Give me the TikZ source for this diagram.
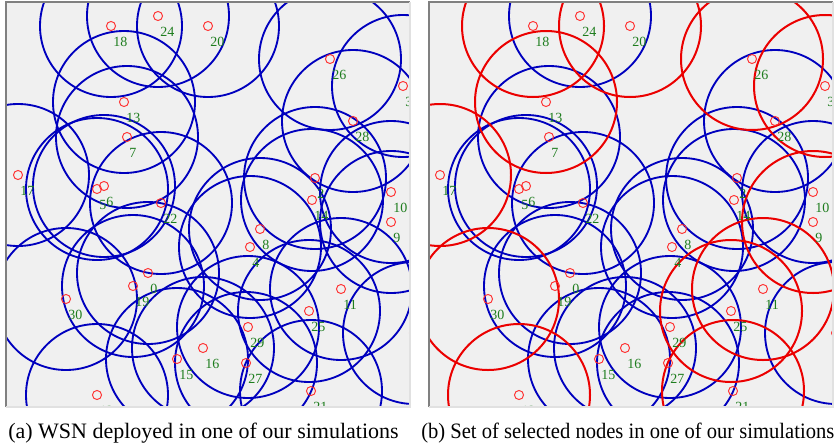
\documentclass[tikz,border=0pt]{standalone}
\usepackage{fontspec}
\setmainfont{Liberation Serif}
\definecolor{panelbg}{RGB}{240,240,240}
\definecolor{cblue}{RGB}{0,0,190}
\definecolor{cred}{RGB}{235,0,0}
\definecolor{nodered}{RGB}{255,45,45}
\definecolor{lblgreen}{RGB}{30,125,30}
\definecolor{framedark}{RGB}{128,128,128}
\definecolor{framelight}{RGB}{225,225,225}
\def\sensorlist{111/26/18/1, 158/16/24/0, 208/26/20/1, 330/59/26/1, 403/86/3/1,
  124/102/13/1, 127/137/7/0, 353/121/28/0, 18/175/17/1, 97/189/5/0, 104/186/6/0,
  161/203/22/0, 315/178/2/0, 312/200/14/0, 391/192/10/0, 391/222/9/1, 148/273/0/0,
  133/286/19/0, 66/299/30/1, 177/359/15/0, 203/348/16/0, 97/395/12/1, 260/229/8/0,
  250/247/4/0, 341/289/11/1, 309/311/25/1, 248/327/29/0, 246/363/27/0, 311/391/21/1}
\begin{document}
\begin{tikzpicture}[x=0.75pt,y=-0.75pt,
  rangeblue/.style={draw=cblue, line width=1.4pt},
  rangered/.style={draw=cred, line width=1.5pt},
  sensor/.style={draw=nodered, line width=0.7pt, circle, minimum size=6.8pt, inner sep=0pt},
  lbl/.style={text=lblgreen, font=\fontsize{10.5}{12}\selectfont, anchor=west, inner sep=0pt},
  captext/.style={font=\fontsize{16.5}{19}\selectfont, inner sep=0pt, anchor=base west}]
\useasboundingbox (0,0) rectangle (837,446);
\fill[white] (0,0) rectangle (837,446);
% ---------- panel (a)
\begin{scope}
  \clip (6,2) rectangle (410,407);
  \fill[panelbg] (6,2) rectangle (410,407);
  \foreach \x/\y/\l/\s in \sensorlist {
    \draw[rangeblue] (\x,\y) circle[radius=53.25pt];
  }
  \draw[rangeblue] (414,333) circle[radius=53.25pt];
  \foreach \x/\y/\l/\s in \sensorlist {
    \node[sensor] (a\l) at (\x,\y) {};
    \node[lbl] (la\l) at (\x+2,\y+16) {\l};
  }
  \node[sensor] (aedge) at (414,333) {};
\end{scope}
\draw[framedark, line width=1pt] (6,407) -- (6,2) -- (410,2);
\draw[framelight, line width=1pt] (410,2) -- (410,407) -- (6,407);
% ---------- panel (b)
\begin{scope}[xshift=316.5pt]
  \clip (7,2) rectangle (411,407);
  \fill[panelbg] (7,2) rectangle (411,407);
  \foreach \x/\y/\l/\s in \sensorlist {
    \ifnum\s=0 \draw[rangeblue] (\x,\y) circle[radius=53.25pt];\fi
  }
  \draw[rangeblue] (414,333) circle[radius=53.25pt];
  \foreach \x/\y/\l/\s in \sensorlist {
    \ifnum\s=1 \draw[rangered] (\x,\y) circle[radius=53.25pt];\fi
  }
  \foreach \x/\y/\l/\s in \sensorlist {
    \node[sensor] (b\l) at (\x,\y) {};
    \node[lbl] (lb\l) at (\x+2,\y+16) {\l};
  }
  \node[sensor] (bedge) at (414,333) {};
\end{scope}
\draw[framedark, line width=1pt] (429,407) -- (429,2) -- (833,2);
\draw[framelight, line width=1pt] (833,2) -- (833,407) -- (429,407);
% ---------- captions
\node[captext] (capa) at (8,438) {(a) WSN deployed in one of our simulations};
\node[captext] (capb) at (421,438) {\scalebox{0.935}[1]{(b) Set of selected nodes in one of our simulations}};
\end{tikzpicture}
\end{document}
